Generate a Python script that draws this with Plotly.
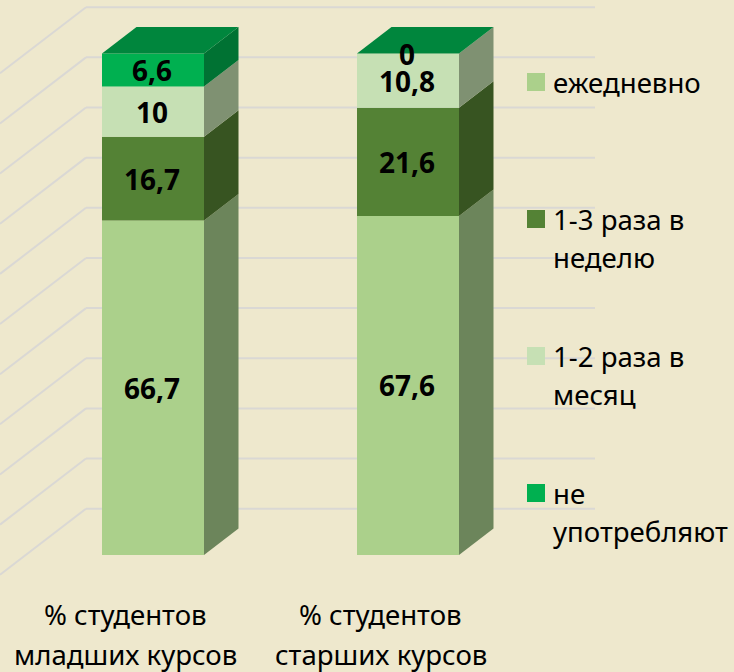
import plotly.graph_objects as go
import numpy as np

categories = ["% студентов младших курсов", "% студентов старших курсов"]
category_lines = [["% студентов", "младших курсов"], ["% студентов", "старших курсов"]]
series_names = ["ежедневно", "1-3 раза в неделю", "1-2 раза в месяц", "не употребляют"]
legend_lines = [["ежедневно"], ["1-3 раза в", "неделю"], ["1-2 раза в", "месяц"], ["не", "употребляют"]]
daily = [66.7, 67.6]
weekly = [16.7, 21.6]
monthly = [10, 10.8]
never = [6.6, 0]
grid_values = [0, 10, 20, 30, 40, 50, 60, 70, 80, 90, 100]
value_labels = [["66,7", "67,6"], ["16,7", "21,6"], ["10", "10,8"], ["6,6", "0"]]

front_colors = ["#ABD08B", "#548235", "#C6E0B4", "#00B050"]
side_colors = ["#6C855B", "#375421", "#7F9172", "#007233"]
top_color = "#00863D"
BG = "#EEE8CD"
GRID = "#DAD8D4"
FONT = "Noto Sans"

W, H = 734, 672
PX_X = 255.0      # px per category
PX_Y = 5.015      # px per value unit
X0_PX, Y0_PX = 153.0, 555.0
xr = [(0 - X0_PX) / PX_X, (W - X0_PX) / PX_X]
yr = [(Y0_PX - H) / PX_Y, Y0_PX / PX_Y]
px_x = lambda px: (px - X0_PX) / PX_X
px_y = lambda px: (Y0_PX - px) / PX_Y

bar_w = 102 / PX_X
dx = 34.5 / PX_X
dy = 26.5 / PX_Y
wall_dy = 46.3 / PX_Y
wall_x = px_x(86)
wall_right = px_x(595)
wall_left = px_x(0)

series = [daily, weekly, monthly, never]
fig = go.Figure()
pos = np.arange(len(categories))
bottoms = np.zeros(2)

shapes = []
for v in grid_values:
    yb = v + wall_dy
    yf = yb - (wall_x - wall_left) * (dy / dx)
    shapes.append(dict(type="line", xref="x", yref="y", layer="below", x0=wall_left, y0=yf, x1=wall_x, y1=yb,
                       line=dict(color=GRID, width=2)))
    shapes.append(dict(type="line", xref="x", yref="y", layer="below", x0=wall_x, y0=yb, x1=wall_right, y1=yb,
                       line=dict(color=GRID, width=2)))

annotations = []
for k, (vals, name) in enumerate(zip(series, series_names)):
    vals = np.array(vals, float)
    fig.add_trace(go.Bar(x=pos, y=vals, base=bottoms, width=bar_w, name=name, showlegend=False,
                         marker=dict(color=front_colors[k], line=dict(width=0))))
    for i in range(2):
        b, t = bottoms[i], bottoms[i] + vals[i]
        r = pos[i] + bar_w / 2
        if vals[i] > 0:
            fig.add_trace(go.Scatter(x=[r, r + dx, r + dx, r, r], y=[b, b + dy, t + dy, t, b], mode="lines",
                                     fill="toself", fillcolor=side_colors[k], line=dict(width=0),
                                     showlegend=False, hoverinfo="skip"))
        annotations.append(dict(x=pos[i] - 1.5 / PX_X, y=(b + t) / 2, xref="x", yref="y", text=value_labels[k][i],
                                showarrow=False, font=dict(family=FONT, size=28, color="#000000", weight="bold")))
    bottoms = bottoms + vals

for i in range(2):
    l, r, t = pos[i] - bar_w / 2, pos[i] + bar_w / 2, bottoms[i]
    fig.add_trace(go.Scatter(x=[l, r, r + dx, l + dx, l], y=[t, t, t + dy, t + dy, t], mode="lines",
                             fill="toself", fillcolor=top_color, line=dict(width=0),
                             showlegend=False, hoverinfo="skip"))
    for j, line in enumerate(category_lines[i]):
        annotations.append(dict(x=pos[i] - 27.5 / PX_X, y=px_y(614 + j * 40), xref="x", yref="y", text=line,
                                showarrow=False, font=dict(family=FONT, size=27.6, color="#000000")))

legend_tops = [73, 210, 347, 484]
for k, top in enumerate(legend_tops):
    shapes.append(dict(type="rect", xref="x", yref="y", x0=px_x(527), x1=px_x(545), y0=px_y(top), y1=px_y(top + 18),
                       fillcolor=front_colors[k], line=dict(width=0)))
    for j, line in enumerate(legend_lines[k]):
        annotations.append(dict(x=px_x(551), y=px_y(top + 9 + j * 38), xref="x", yref="y", text=line, xanchor="left",
                                showarrow=False, font=dict(family=FONT, size=27.6, color="#000000")))

fig.update_layout(width=W, height=H, margin=dict(l=0, r=0, t=0, b=0), paper_bgcolor=BG, plot_bgcolor=BG,
                  barmode="overlay", shapes=shapes, annotations=annotations,
                  xaxis=dict(range=xr, visible=False, fixedrange=True),
                  yaxis=dict(range=yr, visible=False, fixedrange=True))
fig.write_html("out.html", config={"displayModeBar": False},
               post_script="document.body.style.margin='0';document.documentElement.style.overflow='hidden';")
